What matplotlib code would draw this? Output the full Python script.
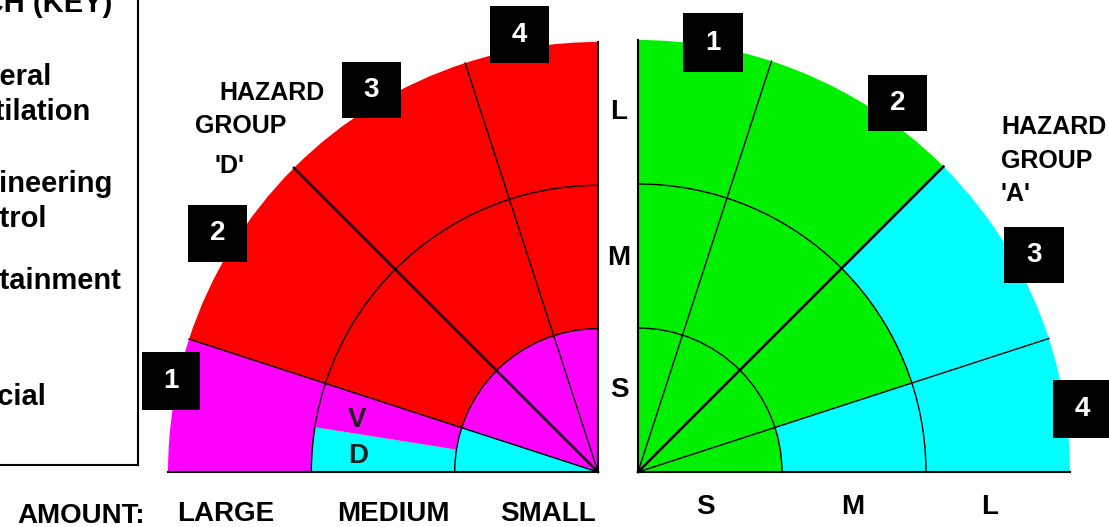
import numpy as np
import matplotlib.pyplot as plt
from matplotlib.patches import Wedge, Arc, Rectangle

# --- Data ---
# rings from the centre outward (amount of substance)
AMOUNT_RINGS = ["S", "M", "L"]
# band edges in degrees, measured up from the amount axis
BAND_EDGES = [0, 18, 45, 72, 90]
# colour code per band (from amount axis upward), per ring (S, M, L)
# "C/V" = split cell: lower half C, upper half V
GROUP_D_CELLS = [
    ["C", "C/V", "V"],
    ["V", "R", "R"],
    ["V", "R", "R"],
    ["V", "R", "R"],
]
GROUP_A_CELLS = [
    ["G", "C", "C"],
    ["G", "G", "C"],
    ["G", "G", "G"],
    ["G", "G", "G"],
]
GROUP_D_BAND_LABELS = ["1", "2", "3", "4"]
GROUP_A_BAND_LABELS = ["4", "3", "2", "1"]
LEFT_AMOUNT_LABELS = ["LARGE", "MEDIUM", "SMALL"]
KEY_LINES = ["General", "Ventilation", "Engineering", "Control", "Containment", "Special"]

COLORS = {"R": "#ff0000", "V": "#ff00ff", "C": "#00ffff", "G": "#00f000"}

# --- Layout (pixels, y measured from the top) ---
W, H = 1109, 527
def Y(y):
    return H - y

LEFT_C = (598, Y(472))
RIGHT_C = (638, Y(472))
LEFT_R = 430
RIGHT_R = 432

FONT = "Liberation Sans"

fig = plt.figure(figsize=(W / 100, H / 100), dpi=100)
ax = fig.add_axes([0, 0, 1, 1])
ax.set_xlim(0, W)
ax.set_ylim(0, H)
ax.axis("off")


def draw_quadrant(center, R, cells, side):
    """side = -1 for the left quadrant (opens to the left), +1 for right."""
    ring_w = R / len(AMOUNT_RINGS)

    def math_angle(a):
        return 180 - a if side < 0 else a

    for b in range(len(BAND_EDGES) - 1):
        a0, a1 = BAND_EDGES[b], BAND_EDGES[b + 1]
        for r, code in enumerate(cells[b]):
            outer = ring_w * (r + 1)
            parts = code.split("/")
            step = (a1 - a0) / len(parts)
            for k, c in enumerate(parts):
                lo, hi = a0 + k * step, a0 + (k + 1) * step
                t1, t2 = sorted([math_angle(lo), math_angle(hi)])
                ax.add_patch(Wedge(center, outer, t1, t2, width=ring_w,
                                   facecolor=COLORS[c], edgecolor="none", zorder=1))
    # ring arcs
    t1, t2 = sorted([math_angle(0), math_angle(90)])
    for r in range(1, len(AMOUNT_RINGS)):
        rr = ring_w * r
        ax.add_patch(Arc(center, 2 * rr, 2 * rr, theta1=t1, theta2=t2,
                         color="black", lw=1.0, zorder=3))
    # radial lines
    for a in BAND_EDGES[1:-1]:
        th = np.radians(math_angle(a))
        lw = 1.8 if a == 45 else 1.0
        ax.plot([center[0], center[0] + R * np.cos(th)],
                [center[1], center[1] + R * np.sin(th)],
                color="black", lw=lw, zorder=4)
    # axis edges
    ax.plot([center[0], center[0]], [center[1], center[1] + R], color="black", lw=1.5, zorder=4)
    ax.plot([center[0], center[0] + side * R], [center[1], center[1]], color="black", lw=1.5, zorder=4)


draw_quadrant(LEFT_C, LEFT_R, GROUP_D_CELLS, -1)
draw_quadrant(RIGHT_C, RIGHT_R, GROUP_A_CELLS, +1)

# V / D labels in the split cell
ax.text(357, Y(427), "V", fontsize=20, fontweight="bold", family=FONT,
        color="#202020", ha="center", va="baseline", zorder=5)
ax.text(358, Y(463), "D", fontsize=20, fontweight="bold", family=FONT,
        color="#202020", ha="center", va="baseline", zorder=5)

# numbered boxes (left, top, right, bottom)
left_boxes = [(142, 352, 200, 410), (188, 205, 247, 262), (342, 62, 401, 118), (490, 6, 549, 63)]
right_boxes = [(1053, 380, 1112, 438), (1004, 227, 1064, 283), (868, 75, 927, 131), (683, 13, 743, 72)]
for boxes, labels in [(left_boxes, GROUP_D_BAND_LABELS), (right_boxes, GROUP_A_BAND_LABELS)]:
    for (l, t, r, b), lab in zip(boxes, labels):
        ax.add_patch(Rectangle((l, Y(b)), r - l, b - t, facecolor="black",
                               edgecolor="none", zorder=6))
        ax.text((l + r) / 2, Y((t + b) / 2), lab, color="white", fontsize=20,
                fontweight="bold", family=FONT, ha="center", va="center", zorder=7)

# hazard group titles
txt = dict(fontsize=18, fontweight="bold", family=FONT, color="black", va="baseline")
ax.text(219, Y(100), "HAZARD", **txt)
ax.text(195, Y(133), "GROUP", **txt)
ax.text(214, Y(173), "'D'", **txt)
ax.text(1001, Y(134), "HAZARD", **txt)
ax.text(1001, Y(168), "GROUP", **txt)
ax.text(1001, Y(201), "'A'", **txt)

# amount labels
big = dict(fontsize=20, fontweight="bold", family=FONT, color="black", va="baseline")
ax.text(17, Y(523), "AMOUNT:", **big)
for x, lab in zip([177, 337, 500], LEFT_AMOUNT_LABELS):
    ax.text(x, Y(521), lab, **big)
for x, lab in zip([705, 853, 990], AMOUNT_RINGS):
    ax.text(x, Y(514), lab, ha="center", **big)
for yb, lab in zip([397, 265, 119], AMOUNT_RINGS):
    ax.text(619, Y(yb), lab, ha="center", **big)

# key box (cut off on the left)
key = dict(fontsize=21, fontweight="bold", family=FONT, color="black", va="baseline")
ax.plot([138, 138], [Y(0), Y(465)], color="black", lw=1.5)
ax.plot([0, 138], [Y(465), Y(465)], color="black", lw=1.5)
ax.text(112, Y(12), "APPROACH (KEY)", ha="right", **key)
key_base = [85, 120, 192, 227, 289, 405]
for line, yb in zip(KEY_LINES, key_base):
    ax.text(-56, Y(yb), line, **key)

fig.savefig("out.png", dpi=100)
